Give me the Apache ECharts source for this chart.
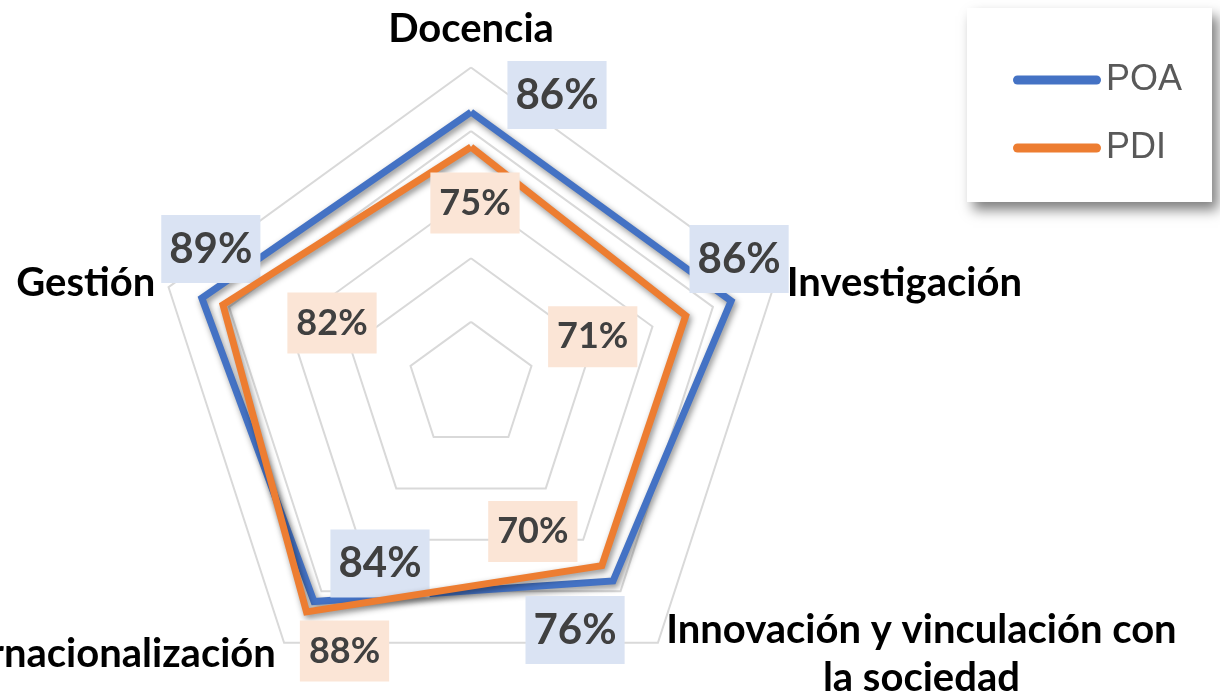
<!DOCTYPE html>
<html>
<head>
<meta charset="utf-8">
<title>POA vs PDI</title>
<script src="https://cdn.jsdelivr.net/npm/echarts@6/dist/echarts.min.js"></script>
<style>
  html, body { margin: 0; padding: 0; background: #fff; }
  #chart { width: 1220px; height: 695px; }
</style>
</head>
<body>
<div id="chart"></div>
<script>
// indicators in the order ECharts lays them out (counter-clockwise from the top)
const categories = ['Docencia', 'Gestión', 'Internacionalización', 'Innovación y vinculación con\nla sociedad', 'Investigación']
const seriesNames = ['POA', 'PDI']
const poaValues = [86, 89, 84, 76, 86]
const pdiValues = [75, 82, 88, 70, 71]

// where each value box sits, relative to its vertex
const poaLabelOffset = [[86, -17], [9, -49], [66, -38], [-38, 49], [8, -42]]
const pdiLabelOffset = [[4, 56], [109, 18], [38, 39], [-69, -34], [-93, 21]]

const center = [471, 385.5]
const colors = ['#4472C4', '#ED7D31']
const boxColors = ['#DAE3F3', '#FBE5D6']

// which vertex a label belongs to, from the angle of its symbol
const vertexIndex = (rect) => {
  const dx = rect.x + rect.width / 2 - center[0]
  const dy = center[1] - (rect.y + rect.height / 2)
  const deg = Math.atan2(dy, dx) * 180 / Math.PI
  return ((Math.round((deg - 90) / 72) % 5) + 5) % 5
}

const makeSeries = (idx, values, offsets, fontSize, padding) => ({
  type: 'radar',
  symbol: 'circle',
  symbolSize: 1,
  z: 2 + idx,
  data: [{ name: seriesNames[idx], value: values }],
  itemStyle: { color: colors[idx] },
  lineStyle: {
    color: colors[idx],
    width: 7,
    join: 'miter',
    shadowColor: 'rgba(0, 0, 0, 0.45)',
    shadowBlur: 6,
    shadowOffsetX: 2,
    shadowOffsetY: 3
  },
  label: {
    show: true,
    position: 'inside',
    formatter: (p) => p.value + '%',
    fontFamily: 'Lato',
    fontWeight: 'bold',
    fontSize: fontSize,
    color: '#404040',
    backgroundColor: boxColors[idx],
    padding: padding
  },
  labelLayout: (params) => {
    const off = offsets[vertexIndex(params.rect)]
    return { dx: off[0], dy: off[1] }
  },
  emphasis: { disabled: true }
})

const chart = echarts.init(document.getElementById('chart'))

const option = {
  animation: false,
  backgroundColor: '#fff',
  legend: {
    data: seriesNames,
    orient: 'vertical',
    left: 967,
    top: 8,
    padding: [52, 30, 34, 46],
    itemGap: 28,
    itemWidth: 88,
    itemHeight: 9,
    icon: 'path://M4.5,0 H83.5 A4.5,4.5 0 0 1 83.5,9 H4.5 A4.5,4.5 0 0 1 4.5,0 Z',
    itemStyle: { borderWidth: 0 },
    textStyle: {
      fontFamily: 'Liberation Sans',
      fontSize: 36,
      color: '#595959',
      lineHeight: 40
    },
    backgroundColor: '#fff',
    shadowColor: 'rgba(0, 0, 0, 0.5)',
    shadowBlur: 12,
    shadowOffsetX: 6,
    shadowOffsetY: 8
  },
  radar: {
    center: center,
    radius: 318,
    startAngle: 90,
    splitNumber: 5,
    shape: 'polygon',
    nameGap: 14,
    indicator: categories.map((name) => ({ name: name, min: 0, max: 100 })),
    axisName: {
      color: '#000',
      fontFamily: 'Lato',
      fontWeight: 'bold',
      fontSize: 40,
      lineHeight: 48,
      formatter: (name) => name.split('\n').map((s) => '{c|' + s + '}').join('\n'),
      rich: {
        c: {
          align: 'center',
          color: '#000',
          fontFamily: 'Lato',
          fontWeight: 'bold',
          fontSize: 40,
          lineHeight: 48
        }
      }
    },
    axisLine: { show: false },
    splitArea: { show: false },
    splitLine: { lineStyle: { color: '#D9D9D9', width: 2 } }
  },
  series: [
    makeSeries(0, poaValues, poaLabelOffset, 42, [14, 8, 12, 8]),
    makeSeries(1, pdiValues, pdiLabelOffset, 36, [14, 9, 11, 9])
  ]
}

chart.setOption(option)
</script>
</body>
</html>
